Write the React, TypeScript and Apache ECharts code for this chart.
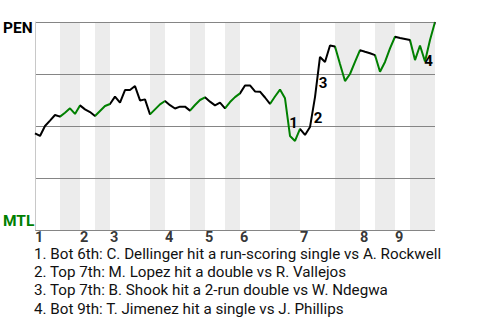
import React, { useEffect, useRef } from "react";
import * as echarts from "echarts";

// PEN win probability (%) after each play, play index 0..80
const winProb = [
  46.5, 45.2, 50.0, 52.6, 55.3, 54.5, 56.4, 58.5, 55.8, 59.9,
  58.0, 56.7, 54.8, 57.2, 59.6, 60.6, 64.1, 61.2, 67.3, 67.3,
  69.2, 62.3, 62.8, 55.6, 58.0, 60.4, 62.0, 60.0, 58.4, 59.3,
  59.3, 57.4, 60.1, 62.5, 63.8, 61.7, 59.9, 61.2, 58.5, 61.5,
  63.9, 65.7, 69.5, 69.5, 66.6, 66.5, 63.7, 60.6, 64.2, 67.5,
  63.3, 45.2, 42.8, 48.6, 45.7, 49.5, 63.9, 83.2, 80.8, 88.7,
  88.2, 79.8, 71.6, 75.0, 80.8, 86.5, 85.7, 85.0, 84.1, 76.1,
  80.8, 87.3, 92.9, 92.3, 91.8, 91.3, 81.7, 88.7, 81.0, 91.3,
  100,
];

// play index at which each half-inning starts (top 1, bot 1, top 2, ...), plus the end
const halfInningStarts = [0, 5, 9, 12, 15, 23, 26, 31, 34, 38, 41, 47, 53, 60, 65, 68, 72, 75, 80];
const inningLabels = ["1", "2", "3", "4", "5", "6", "7", "8", "9"];

const awayTeam = "PEN";
const homeTeam = "MTL";

const eventPlays = [51, 55, 56, 78];
const eventTexts = [
  "1. Bot 6th: C. Dellinger hit a run-scoring single vs A. Rockwell",
  "2. Top 7th: M. Lopez hit a double vs R. Vallejos",
  "3. Top 7th: B. Shook hit a 2-run double vs W. Ndegwa",
  "4. Bot 9th: T. Jimenez hit a single vs J. Phillips",
];

const GREEN = "#008000";
const FONT = "Roboto, 'Liberation Sans', Arial, sans-serif";

export default function App() {
  const ref = useRef<HTMLDivElement>(null);

  useEffect(() => {
    if (!ref.current) return;
    const chart = echarts.init(ref.current, null, { renderer: "svg" });

    const bottoms: [number, number][] = [];
    for (let k = 1; k + 1 < halfInningStarts.length; k += 2) {
      bottoms.push([halfInningStarts[k], halfInningStarts[k + 1]]);
    }
    const inningStarts = inningLabels.map((_, k) => halfInningStarts[2 * k]);
    const lineData = winProb.map((v, i) => [i, v]);

    const labelOffsets = [
      [3.5, -13],
      [8, -9],
      [8, -14],
      [3.5, -1],
    ];

    const option: any = {
      animation: false,
      grid: { left: 34, right: 45, top: 22, bottom: 90, containLabel: false },
      xAxis: {
        type: "value",
        min: 0,
        max: winProb.length - 1,
        axisLine: { show: false },
        axisTick: { show: false },
        axisLabel: { show: false },
        splitLine: { show: false },
      },
      yAxis: {
        type: "value",
        min: 0,
        max: 100,
        interval: 25,
        z: 2,
        axisLine: { show: true, lineStyle: { color: "#c8c8c8", width: 1 } },
        axisTick: { show: false },
        splitLine: { show: true, lineStyle: { color: "#858585", width: 1 } },
        axisLabel: {
          show: true,
          align: "left",
          margin: 32,
          formatter: (v: number) =>
            v === 100 ? `{p|${awayTeam}}` : v === 0 ? `{m|${homeTeam}}` : "",
          rich: {
            p: {
              fontFamily: FONT,
              fontWeight: "bold",
              fontSize: 15.5,
              color: "#000",
              padding: [12, 0, 0, 0],
            },
            m: {
              fontFamily: FONT,
              fontWeight: "bold",
              fontSize: 15.5,
              color: GREEN,
              padding: [0, 0, 19, 0],
            },
          },
        },
      },
      visualMap: {
        type: "piecewise",
        show: false,
        dimension: 0,
        seriesIndex: 1,
        pieces: bottoms.map(([a, b]) => ({ gte: a, lte: b, color: GREEN })),
        outOfRange: { color: "#000" },
      },
      series: [
        {
          type: "line",
          z: 1,
          data: [
            [0, 0],
            [winProb.length - 1, 0],
          ],
          symbol: "none",
          lineStyle: { opacity: 0 },
          silent: true,
          markArea: {
            z: 1,
            silent: true,
            itemStyle: { color: "#ececec" },
            data: bottoms.map(([a, b]) => [{ xAxis: a }, { xAxis: b }]),
          },
        },
        {
          type: "line",
          z: 3,
          data: lineData,
          symbol: "none",
          lineStyle: { width: 2 },
        },
        {
          type: "scatter",
          z: 4,
          clip: false,
          symbolSize: 1,
          itemStyle: { color: "transparent" },
          data: eventPlays.map((p, k) => ({
            value: [p, winProb[p]],
            label: {
              show: true,
              position: "inside",
              offset: labelOffsets[k],
              formatter: String(k + 1),
              fontFamily: FONT,
              fontWeight: "bold",
              fontSize: 15,
              color: "#000",
              textBorderWidth: 0,
              textBorderColor: "transparent",
              opacity: 1,
            },
          })),
        },
        {
          type: "scatter",
          z: 4,
          clip: false,
          symbolSize: 1,
          itemStyle: { color: "transparent" },
          data: inningStarts.map((s, k) => ({
            value: [s, 0],
            label: {
              show: true,
              position: "inside",
              offset: [0, 7.5],
              align: "left",
              verticalAlign: "middle",
              formatter: inningLabels[k],
              fontFamily: FONT,
              fontWeight: "bold",
              fontSize: 14.5,
              color: "#000",
              textBorderWidth: 0,
              textBorderColor: "transparent",
            },
          })),
        },
      ],
      graphic: eventTexts.map((t, k) => ({
        type: "text",
        x: 34,
        y: 253.5 + k * 18.35,
        style: {
          text: t,
          fontFamily: FONT,
          fontSize: 15.2,
          fill: "#111",
          verticalAlign: "middle",
        },
      })),
    };

    chart.setOption(option);
    return () => chart.dispose();
  }, []);

  return <div ref={ref} style={{ width: 480, height: 320, position: "absolute", left: 0, top: 0 }} />;
}
